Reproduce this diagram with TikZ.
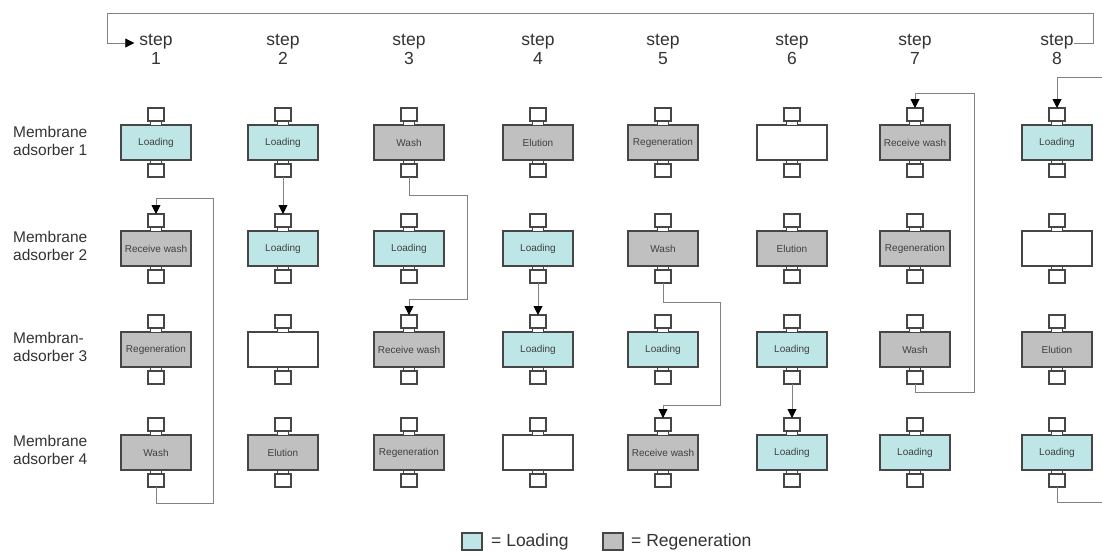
\documentclass[tikz,border=0pt]{standalone}
\usepackage{fontspec}
\setmainfont{Liberation Sans}
\usetikzlibrary{arrows.meta}
\definecolor{cyanbox}{RGB}{190,230,231}
\definecolor{graybox}{RGB}{192,192,192}
\definecolor{edgegray}{RGB}{70,70,70}
\definecolor{linegray}{RGB}{130,130,130}
\tikzset{
  ma/.style={draw=edgegray, line width=1.3pt, minimum width=70pt, minimum height=35pt,
    inner sep=0pt, outer sep=0pt, font=\fontsize{10}{11}\selectfont, text=black!75},
  ld/.style={ma, fill=cyanbox},
  rg/.style={ma, fill=graybox},
  em/.style={ma, fill=white},
  port/.style={draw=edgegray, line width=1.3pt, fill=white, minimum width=16pt,
    minimum height=13pt, inner sep=0pt, outer sep=0pt},
  neck/.style={draw=edgegray, line width=1pt, fill=white, minimum width=11pt,
    minimum height=4pt, inner sep=0pt, outer sep=0pt},
  flow/.style={draw=linegray, line width=0.9pt},
  flowarrow/.style={flow, -{Triangle[length=9pt,width=9pt,color=black]}},
  rowlab/.style={anchor=west, align=left, inner sep=0pt, text=black!80,
    font=\fontsize{15.5}{18}\selectfont},
  steplab/.style={anchor=base, inner sep=0pt, text=black!80, font=\fontsize{17.5}{18}\selectfont},
  legsw/.style={draw=edgegray, line width=1.2pt, minimum width=20pt, minimum height=17pt,
    inner sep=0pt, outer sep=0pt},
  legtext/.style={anchor=west, inner sep=0pt, text=black!80, font=\fontsize{17.5}{18}\selectfont}
}
\begin{document}
\begin{tikzpicture}[x=1pt,y=-1pt]
\useasboundingbox (0,0) rectangle (1102,555);
% column and row positions
\foreach \c/\x in {1/156,2/283,3/409,4/538,5/663,6/792,7/915,8/1057}
  \coordinate (c\c) at (\x,0);
\foreach \r/\y in {1/142.5,2/248.5,3/349.5,4/452.5}
  \coordinate (r\r) at (0,\y);
% step labels
\foreach \c in {1,...,8}{
  \node[steplab] (st\c) at (c\c |- 0,45) {step};
  \node[steplab] (n\c) at (c\c |- 0,64) {\c};
}
% row labels
\node[rowlab] (m1) at (13,141) {Membrane\\adsorber 1};
\node[rowlab] (m2) at (13,246) {Membrane\\adsorber 2};
\node[rowlab] (m3) at (13,347) {Membran-\\adsorber 3};
\node[rowlab] (m4) at (13,450) {Membrane\\adsorber 4};
% membrane adsorber boxes
\foreach \r/\c/\s/\t in {
  1/1/ld/Loading, 1/2/ld/Loading, 1/3/rg/Wash, 1/4/rg/Elution, 1/5/rg/Regeneration, 1/6/em/, 1/7/rg/Receive wash, 1/8/ld/Loading,
  2/1/rg/Receive wash, 2/2/ld/Loading, 2/3/ld/Loading, 2/4/ld/Loading, 2/5/rg/Wash, 2/6/rg/Elution, 2/7/rg/Regeneration, 2/8/em/,
  3/1/rg/Regeneration, 3/2/em/, 3/3/rg/Receive wash, 3/4/ld/Loading, 3/5/ld/Loading, 3/6/ld/Loading, 3/7/rg/Wash, 3/8/rg/Elution,
  4/1/rg/Wash, 4/2/rg/Elution, 4/3/rg/Regeneration, 4/4/em/, 4/5/rg/Receive wash, 4/6/ld/Loading, 4/7/ld/Loading, 4/8/ld/Loading}{
  \node[\s] (b\r\c) at (c\c |- r\r) {\t};
  \node[neck, anchor=south] (nt\r\c) at (b\r\c.north) {};
  \node[port, anchor=south] (t\r\c) at (nt\r\c.north) {};
  \node[neck, anchor=north] (nb\r\c) at (b\r\c.south) {};
  \node[port, anchor=north] (u\r\c) at (nb\r\c.south) {};
}
% cycle loop at top
\draw[flowarrow] (st8.east |- 0,43) -- (1093,43) -- (1093,13) -- (107,13) -- (107,43)
  -- ([xshift=-5pt]st1.west |- 0,43);
% wash transfers
\draw[flowarrow] (u41.south) -- ++(0,16) -| (213,198) -| (t21.north);
\draw[flowarrow] (u12.south) -- (t22.north);
\draw[flowarrow] (u13.south) -- ++(0,18) -| (467,299) -| (t33.north);
\draw[flowarrow] (u24.south) -- (t34.north);
\draw[flowarrow] (u25.south) -- ++(0,19) -| (720,405) -| (t45.north);
\draw[flowarrow] (u36.south) -- (t46.north);
\draw[flowarrow] (u37.south) -- ++(0,8) -| (974,93) -| (t17.north);
\coordinate (in8) at (1102,77);
\coordinate (out8) at (1102,502);
\draw[flowarrow] (in8) -| (t18.north);
\draw[flow] (u48.south) |- (out8);
% legend
\node[legsw, fill=cyanbox] (lg1) at (472,541.5) {};
\node[legtext] (lt1) at (491,541.5) {= Loading};
\node[legsw, fill=graybox] (lg2) at (613,541.5) {};
\node[legtext] (lt2) at (631,541.5) {= Regeneration};
\end{tikzpicture}
\end{document}
